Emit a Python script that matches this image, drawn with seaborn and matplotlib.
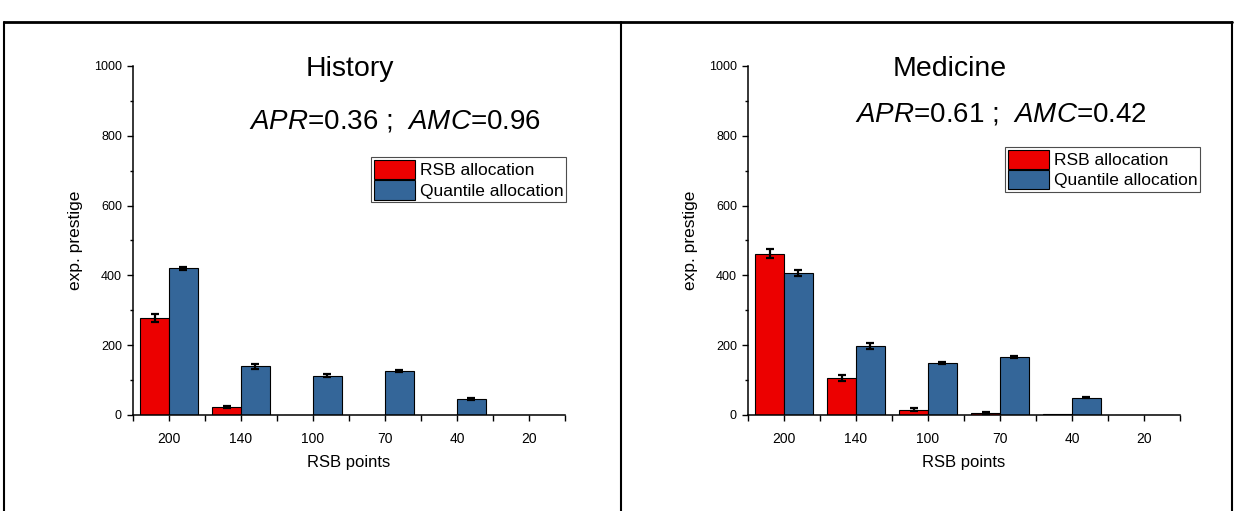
"""
Expected prestige per RSB points bucket: RSB vs quantile allocation.
"""
import numpy as np
import pandas as pd
import matplotlib
matplotlib.use('Agg')
import matplotlib.pyplot as plt
import matplotlib.patches as mpatches
from matplotlib.lines import Line2D
from matplotlib.ticker import MultipleLocator, FixedLocator
import seaborn as sns

# data
rsb_points = ['200', '140', '100', '70', '40', '20']
series = ['RSB allocation', 'Quantile allocation']

history_rsb = [277, 24, 1, 0.5, 0, 0]
history_rsb_err = [12, 3, 0, 0, 0, 0]
history_quantile = [420, 139, 113, 127, 46, 0]
history_quantile_err = [5, 7, 4, 3, 2, 0]

medicine_rsb = [462, 106, 15, 6, 2, 0]
medicine_rsb_err = [13, 8, 4, 3, 0, 0]
medicine_quantile = [406, 198, 149, 165, 50, 0]
medicine_quantile_err = [9, 8, 4, 3, 2, 0]

colors = ['#EC0000', '#346699']


def make_frame(rsb, quantile):
    return pd.DataFrame({
        'points': rsb_points * 2,
        'series': [series[0]] * len(rsb_points) + [series[1]] * len(rsb_points),
        'value': list(rsb) + list(quantile),
    })


def draw_panel(ax, title, stats_text, rsb, rsb_err, quantile, quantile_err,
               title_x, stats_x, stats_y, legend_anchor):
    df = make_frame(rsb, quantile)
    sns.barplot(data=df, x='points', y='value', hue='series', order=rsb_points,
                hue_order=series, palette=colors, saturation=1, edgecolor='black',
                linewidth=0.8, errorbar=None, width=0.8, gap=0, legend=False, ax=ax)

    # error bars on top of each bar
    for container, err in zip(ax.containers, [rsb_err, quantile_err]):
        xs, ys, es = [], [], []
        for patch, e in zip(container, err):
            if e > 0:
                xs.append(patch.get_x() + patch.get_width() / 2)
                ys.append(patch.get_height())
                es.append(e)
        ax.errorbar(xs, ys, yerr=es, fmt='none', ecolor='black',
                    elinewidth=1.6, capsize=2.8, capthick=1.6, zorder=5)

    ax.set_xlim(-0.5, 5.5)
    ax.set_ylim(0, 1000)
    ax.yaxis.set_major_locator(MultipleLocator(200))
    ax.yaxis.set_minor_locator(MultipleLocator(100))
    ax.xaxis.set_minor_locator(FixedLocator(np.arange(-0.5, 6, 1)))
    ax.tick_params(axis='y', which='major', direction='out', length=4.5,
                   width=1, labelsize=9, pad=3.5)
    ax.tick_params(axis='x', which='major', direction='out', length=4.5,
                   width=1, labelsize=10, pad=7.5)
    ax.tick_params(axis='y', which='minor', direction='out', length=2.5, width=1)
    ax.tick_params(axis='x', which='minor', direction='out', length=4.5, width=1)
    sns.despine(ax=ax)
    for side in ['left', 'bottom']:
        ax.spines[side].set_linewidth(1.1)

    ax.set_xlabel('RSB points', fontsize=12, labelpad=7)
    ax.set_ylabel('exp. prestige', fontsize=12.5, labelpad=8)

    ax.text(title_x, 0.971, title, transform=ax.transAxes, ha='center',
            va='baseline', fontsize=20.5)
    ax.text(stats_x, stats_y, stats_text, transform=ax.transAxes, ha='center',
            va='baseline', fontsize=20)

    handles = [mpatches.Patch(facecolor=c, edgecolor='black', linewidth=0.8)
               for c in colors]
    leg = ax.legend(handles, series, loc='upper left', bbox_to_anchor=legend_anchor,
                    borderaxespad=0, fontsize=12.5, handlelength=2.4, handleheight=1.35,
                    labelspacing=0.05, handletextpad=0.25, borderpad=0.15,
                    frameon=True, fancybox=False, edgecolor='0.3', framealpha=1)
    leg.get_frame().set_linewidth(0.8)


def main():
    sns.set_style('ticks')
    plt.rcParams['font.family'] = ['Liberation Sans', 'DejaVu Sans']
    plt.rcParams['mathtext.fontset'] = 'custom'
    plt.rcParams['mathtext.rm'] = 'Liberation Sans'
    plt.rcParams['mathtext.it'] = 'Liberation Sans:italic'
    for key in ['text.color', 'axes.labelcolor', 'xtick.color', 'ytick.color',
                'axes.edgecolor']:
        plt.rcParams[key] = 'black'

    fig = plt.figure(figsize=(12.36, 5.11), dpi=100)
    ax1 = fig.add_axes([0.1076, 0.1879, 0.3495, 0.683])
    ax2 = fig.add_axes([0.6052, 0.1879, 0.3495, 0.683])

    draw_panel(ax1, 'History', r'$APR$=0.36 ;  $AMC$=0.96',
               history_rsb, history_rsb_err, history_quantile, history_quantile_err,
               title_x=0.502, stats_x=0.606, stats_y=0.822, legend_anchor=(0.551, 0.739))
    draw_panel(ax2, 'Medicine', r'$APR$=0.61 ;  $AMC$=0.42',
               medicine_rsb, medicine_rsb_err, medicine_quantile, medicine_quantile_err,
               title_x=0.4676, stats_x=0.586, stats_y=0.842, legend_anchor=(0.595, 0.768))

    # outer panel borders
    top = 1 - 22 / 511
    for x in [4 / 1236, 621 / 1236, 1232 / 1236]:
        fig.add_artist(Line2D([x, x], [0, top], transform=fig.transFigure,
                              color='black', lw=1.5))
    fig.add_artist(Line2D([4 / 1236, 1232 / 1236], [top, top], transform=fig.transFigure,
                          color='black', lw=2))

    fig.savefig('out.png', dpi=100)


if __name__ == "__main__":
    main()
